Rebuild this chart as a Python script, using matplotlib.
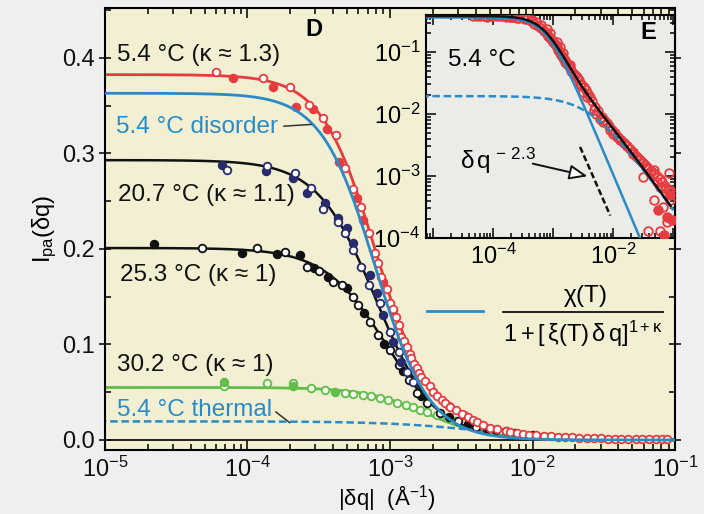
import numpy as np
import matplotlib
matplotlib.use('Agg')
import matplotlib.pyplot as plt
from matplotlib.ticker import LogLocator, FixedLocator, FuncFormatter, MultipleLocator, NullFormatter

plt.rcParams['font.family'] = ['Liberation Sans', 'DejaVu Sans']
plt.rcParams['mathtext.fontset'] = 'custom'
plt.rcParams['mathtext.rm'] = 'Liberation Sans'
plt.rcParams['mathtext.it'] = 'Liberation Sans:italic'
plt.rcParams['mathtext.bf'] = 'Liberation Sans:bold'

FS = 17.5   # curve labels
TS = 17     # tick labels

# --- fit parameters: I = chi / (1 + (xi*q)^(1+kappa))
fit_labels = ['5.4 °C (κ ≈ 1.3)', '20.7 °C (κ ≈ 1.1)', '25.3 °C (κ ≈ 1)', '30.2 °C (κ ≈ 1)']
fit_chi = [0.363, 0.293, 0.201, 0.055]
fit_xi = [1270.0, 1250.0, 1070.0, 550.0]
fit_kappa = [1.3, 1.1, 1.0, 1.0]
thermal_chi = 0.0195
thermal_xi = 234.0
thermal_exp = 1.34

# --- 5.4 C data (main panel)
red_open_q = [6.0e-5, 1.29e-4, 2.0e-4, 2.7e-4, 3.4e-4, 4.2e-4, 4.8e-4, 5.5e-4, 6.3e-4, 7.1e-4,
              7.9e-4, 8.3e-4, 8.7e-4, 9.5e-4, 1.0e-3, 1.05e-3, 1.1e-3, 1.15e-3, 1.2e-3, 1.25e-3,
              1.32e-3, 1.37e-3, 1.41e-3, 1.48e-3, 1.55e-3, 1.6e-3, 1.66e-3, 1.75e-3, 1.9e-3, 2.0e-3,
              2.14e-3, 2.3e-3, 2.45e-3, 2.65e-3, 2.9e-3, 3.2e-3, 3.5e-3, 3.8e-3, 4.1e-3, 4.5e-3,
              5.0e-3, 5.6e-3, 6.5e-3, 7.0e-3, 7.8e-3, 8.5e-3, 9.5e-3, 1.05e-2, 1.2e-2, 1.35e-2,
              1.5e-2, 1.7e-2, 1.9e-2, 2.1e-2, 2.4e-2, 2.7e-2, 3.0e-2, 3.4e-2, 3.8e-2, 4.2e-2,
              4.7e-2, 5.3e-2, 5.9e-2, 6.6e-2, 7.4e-2, 8.1e-2, 8.8e-2]
red_open_I = [0.385, 0.379, 0.370, 0.351, 0.337, 0.319, 0.285, 0.263, 0.244, 0.217,
              0.196, 0.185, 0.171, 0.158, 0.143, 0.137, 0.129, 0.120, 0.108, 0.104,
              0.097, 0.090, 0.086, 0.080, 0.075, 0.070, 0.066, 0.062, 0.056, 0.050,
              0.046, 0.042, 0.039, 0.035, 0.031, 0.027, 0.024, 0.021, 0.019, 0.016,
              0.013, 0.011, 0.009, 0.008, 0.0072, 0.0064, 0.0056, 0.005, 0.0042, 0.0038,
              0.0034, 0.003, 0.0027, 0.0024, 0.0021, 0.0019, 0.0017, 0.0015, 0.0013, 0.0012,
              0.0011, 0.0010, 0.0009, 0.0008, 0.0007, 0.0006, 0.0006]
red_fill_q = [7.9e-5, 1.5e-4, 2.2e-4, 2.9e-4, 3.6e-4, 4.4e-4, 5.9e-4, 6.5e-4, 9.0e-4, 1.05e-3,
              1.25e-3, 1.6e-3, 2.0e-3, 2.6e-3, 3.3e-3]
red_fill_I = [0.379, 0.370, 0.349, 0.346, 0.326, 0.291, 0.253, 0.230, 0.165, 0.136,
              0.103, 0.070, 0.050, 0.036, 0.026]

# --- 20.7 C data
navy_open_q = [7.2e-5, 1.38e-4, 2.14e-4, 2.8e-4, 3.4e-4, 4.3e-4, 4.8e-4, 5.5e-4, 6.3e-4, 7.1e-4,
               8.5e-4, 1.0e-3, 1.15e-3, 1.32e-3, 1.45e-3]
navy_open_I = [0.283, 0.287, 0.280, 0.264, 0.242, 0.228, 0.217, 0.199, 0.181, 0.162,
               0.143, 0.113, 0.092, 0.071, 0.061]
navy_fill_q = [6.6e-5, 1.35e-4, 2.1e-4, 2.6e-4, 3.5e-4, 4.3e-4, 5.0e-4, 5.5e-4, 7.2e-4, 8.1e-4,
               8.9e-4, 1.05e-3, 1.2e-3]
navy_fill_I = [0.288, 0.282, 0.274, 0.259, 0.248, 0.232, 0.222, 0.206, 0.173, 0.154,
               0.131, 0.103, 0.082]

# --- 25.3 C data
black_open_q = [4.8e-5, 1.17e-4, 1.82e-4, 2.6e-4, 3.2e-4, 4.0e-4, 4.6e-4, 5.5e-4, 6.0e-4, 7.2e-4,
                8.3e-4, 1.0e-3, 1.15e-3, 1.35e-3, 1.55e-3, 1.82e-3, 2.24e-3, 3.0e-3, 4.0e-3, 5.5e-3,
                7.5e-3, 1.0e-2]
black_open_I = [0.201, 0.201, 0.197, 0.181, 0.177, 0.165, 0.162, 0.150, 0.141, 0.124,
                0.110, 0.094, 0.078, 0.063, 0.049, 0.039, 0.028, 0.020, 0.014, 0.010,
                0.007, 0.005]
black_fill_q = [2.2e-5, 9.1e-5, 1.62e-4, 2.34e-4, 2.95e-4, 3.7e-4, 5.0e-4, 6.6e-4, 9.1e-4, 1.23e-3,
                1.66e-3, 2.6e-3, 3.5e-3, 4.8e-3, 6.5e-3]
black_fill_I = [0.205, 0.196, 0.195, 0.194, 0.180, 0.171, 0.159, 0.133, 0.101, 0.072,
                0.046, 0.024, 0.017, 0.012, 0.009]

# --- 30.2 C data
green_open_q = [6.9e-5, 1.38e-4, 2.1e-4, 2.8e-4, 3.5e-4, 4.8e-4, 5.5e-4, 6.5e-4, 7.4e-4, 8.5e-4,
                9.7e-4, 1.12e-3, 1.29e-3, 1.45e-3, 1.62e-3, 1.82e-3, 2.14e-3, 2.5e-3, 2.9e-3]
green_open_I = [0.057, 0.060, 0.060, 0.054, 0.052, 0.049, 0.048, 0.047, 0.046, 0.044,
                0.042, 0.039, 0.037, 0.035, 0.031, 0.029, 0.026, 0.023, 0.020]
green_fill_q = [6.9e-5, 2.1e-4, 4.1e-4]
green_fill_I = [0.061, 0.056, 0.050]

# --- 5.4 C data (inset E, log-log)
inset_q = [4.7e-5, 5.4e-5, 6.9e-5, 7.8e-5, 8.9e-5, 1.0e-4, 1.15e-4, 1.48e-4, 1.66e-4, 1.9e-4,
           2.14e-4, 2.45e-4, 3.16e-4, 3.6e-4, 4.4e-4, 5.2e-4, 6.3e-4, 7.8e-4, 8.9e-4, 1.15e-3,
           1.29e-3, 1.48e-3, 1.9e-3, 2.75e-3, 3.16e-3, 3.6e-3, 4.7e-3, 5.2e-3, 6.0e-3, 6.8e-3,
           8.9e-3, 1.0e-2, 1.15e-2, 1.29e-2, 1.48e-2, 1.66e-2, 2.14e-2, 2.45e-2, 2.75e-2, 3.16e-2,
           3.6e-2, 3.16e-2, 4.07e-2, 4.68e-2, 6.03e-2, 4.68e-2, 6.76e-2, 8.71e-2, 8.32e-2, 3.8e-2,
           6.03e-2, 7.24e-2, 5.25e-2, 7.94e-2]
inset_I = [0.380, 0.380, 0.380, 0.375, 0.380, 0.385, 0.380, 0.380, 0.370, 0.370,
           0.365, 0.360, 0.350, 0.345, 0.331, 0.302, 0.269, 0.240, 0.204, 0.145,
           0.120, 0.098, 0.062, 0.029, 0.023, 0.019, 0.0115, 0.010, 0.0083, 0.0074,
           0.0056, 0.0048, 0.0043, 0.0038, 0.0034, 0.0030, 0.0023, 0.0020, 0.0018, 0.0016,
           0.0014, 9.5e-4, 1.1e-3, 1.26e-3, 6.6e-4, 4.1e-4, 3.2e-4, 4.1e-4, 1.1e-3, 1.3e-4,
           1.3e-4, 6.3e-4, 7.9e-4, 1.8e-4]
inset_fill_q = [7.76e-2, 9.33e-2, 5.62e-2, 7.08e-2, 8.91e-2]
inset_fill_I = [2.2e-4, 1.95e-4, 2.8e-4, 1.1e-4, 5.0e-4]

RED = '#e63b3f'
BLUE = '#2a8bc6'
GREEN = '#62bd4c'
NAVY = '#272b6c'
BLACK = '#111111'


def disorder(q, chi, xi, kappa):
    return chi / (1.0 + (xi * q) ** (1.0 + kappa))


def thermal(q):
    return thermal_chi / (1.0 + (thermal_xi * q) ** thermal_exp)


fig = plt.figure(figsize=(7.04, 5.14), dpi=100, facecolor='#efefef')
ax = fig.add_axes([0.149, 0.1245, 0.81, 0.8595], facecolor='#f2efd2')

qq = np.logspace(-5.2, -0.9, 500)
ax.axhline(0.0, color=BLACK, lw=1.3, zorder=1)

# fit curves
dis54 = disorder(qq, fit_chi[0], fit_xi[0], fit_kappa[0])
ax.plot(qq, dis54 + thermal(qq), color=RED, lw=2.0, zorder=2)
ax.plot(qq, disorder(qq, fit_chi[1], fit_xi[1], fit_kappa[1]), color=BLACK, lw=1.8, zorder=2)
ax.plot(qq, disorder(qq, fit_chi[2], fit_xi[2], fit_kappa[2]), color=BLACK, lw=1.8, zorder=2)
ax.plot(qq, disorder(qq, fit_chi[3], fit_xi[3], fit_kappa[3]), color=GREEN, lw=2.0, zorder=2)
ax.plot(qq, thermal(qq), color=BLUE, lw=1.8, ls=(0, (3, 1.5)), zorder=2)

mk = dict(ls='none', marker='o', ms=5.5, mew=1.3, zorder=4)
ax.plot(green_open_q, green_open_I, mfc='#f4f8ea', mec=GREEN, **mk)
ax.plot(green_fill_q, green_fill_I, mfc=GREEN, mec=GREEN, **mk)
ax.plot(black_fill_q, black_fill_I, mfc=BLACK, mec=BLACK, **mk)
ax.plot(black_open_q, black_open_I, mfc='white', mec=BLACK, **mk)
ax.plot(navy_fill_q, navy_fill_I, mfc=NAVY, mec=NAVY, **mk)
ax.plot(navy_open_q, navy_open_I, mfc='white', mec=NAVY, **mk)
ax.plot(red_fill_q, red_fill_I, mfc=RED, mec=RED, **mk)
ax.plot(red_open_q, red_open_I, mfc='white', mec=RED, **mk)

# disorder part drawn over the points
ax.plot(qq, dis54, color=BLUE, lw=2.0, zorder=5)

ax.set_xscale('log')
ax.set_xlim(1e-5, 1e-1)
ax.set_ylim(-0.0105, 0.452)
ax.yaxis.set_major_locator(MultipleLocator(0.1))
ax.yaxis.set_minor_locator(MultipleLocator(0.05))
ax.yaxis.set_major_formatter(FuncFormatter(lambda v, p: f'{v:.1f}'))
ax.xaxis.set_major_locator(LogLocator(base=10, numticks=10))
ax.xaxis.set_minor_locator(LogLocator(base=10, subs=np.arange(2, 10), numticks=20))
ax.xaxis.set_minor_formatter(NullFormatter())
ax.tick_params(which='both', direction='in', top=True, right=True, width=1.2, labelsize=TS,
               colors=BLACK)
ax.tick_params(which='major', length=7, pad=5)
ax.tick_params(which='minor', length=4)
ax.tick_params(axis='y', which='major', direction='inout', length=9, pad=3)
for s in ax.spines.values():
    s.set_linewidth(1.5)

ax.set_ylabel(r'$\mathrm{I_{pa}(δq)}$', fontsize=17, labelpad=2)
fig.text(387 / 704, 1 - 498 / 514, r'$\mathrm{|δq|\ \ (Å^{-1})}$', fontsize=16,
         ha='center', va='center')

# curve labels
tk = dict(transform=ax.transAxes, fontsize=FS, va='center', ha='left')
ax.text(0.021, 0.894, fit_labels[0], color=BLACK, **tk)
ax.text(0.019, 0.731, '5.4 °C disorder', color=BLUE, **tk)
ax.text(0.023, 0.577, fit_labels[1], color=BLACK, **tk)
ax.text(0.026, 0.396, fit_labels[2], color=BLACK, **tk)
ax.text(0.021, 0.192, fit_labels[3], color=BLACK, **tk)
ax.text(0.021, 0.090, '5.4 °C thermal', color=BLUE, **tk)
ax.text(0.367, 0.952, 'D', transform=ax.transAxes, fontsize=17, fontweight='bold',
        ha='center', va='center')

# leader lines
ax.plot([0.314, 0.362], [0.733, 0.737], transform=ax.transAxes, color='#333333', lw=1.1, zorder=6)
ax.plot([0.300, 0.324], [0.086, 0.062], transform=ax.transAxes, color='#333333', lw=1.1, zorder=6)

# model legend
ax.plot([0.565, 0.663], [0.314, 0.314], transform=ax.transAxes, color=BLUE, lw=2.0)
ax.plot([0.698, 0.979], [0.312, 0.312], transform=ax.transAxes, color=BLACK, lw=1.3)
ax.text(0.842, 0.349, r'$\mathrm{χ(T)}$', transform=ax.transAxes, fontsize=FS,
        ha='center', va='center')
ax.text(0.838, 0.262, r'$\mathrm{1 + [\,ξ(T)\,δ\,q]^{1+κ}}$', transform=ax.transAxes,
        fontsize=17, ha='center', va='center')

# --- inset E
ax_in = fig.add_axes([0.605, 0.537, 0.354, 0.434], facecolor='#ebebe8')
qi = np.logspace(-5.2, -0.9, 500)
dis_in = disorder(qi, fit_chi[0], fit_xi[0], fit_kappa[0])
mi = dict(ls='none', marker='o', ms=6.2, mew=1.3, zorder=3)
ax_in.plot(inset_q, inset_I, mfc='none', mec=RED, **mi)
ax_in.plot(red_open_q, red_open_I, mfc='none', mec=RED, **mi)
ax_in.plot(inset_fill_q, inset_fill_I, mfc=RED, mec=RED, **mi)
ax_in.plot(qi, thermal(qi), color=BLUE, lw=1.8, ls=(0, (3, 1.5)), zorder=4)
ax_in.plot(qi, dis_in, color=BLUE, lw=1.8, zorder=4)
q_tot = qi[qi < 0.09]
ax_in.plot(q_tot, disorder(q_tot, fit_chi[0], fit_xi[0], fit_kappa[0]) + thermal(q_tot),
           color=BLACK, lw=1.8, zorder=5)
ax_in.plot([2.8e-3, 8.9e-3], [2.95e-3, 2.3e-4], color=BLACK, lw=1.8, ls=(0, (2.5, 1.2)), zorder=5)

ax_in.set_xscale('log')
ax_in.set_yscale('log')
ax_in.set_xlim(10 ** -5.12, 10 ** -0.97)
ax_in.set_ylim(1e-4, 10 ** -0.40)
ax_in.xaxis.set_major_locator(FixedLocator([1e-5, 1e-4, 1e-3, 1e-2, 1e-1]))
ax_in.xaxis.set_major_formatter(FuncFormatter(
    lambda v, p: r'$\mathdefault{10^{%d}}$' % round(np.log10(v)) if round(np.log10(v)) in (-4, -2) else ''))
ax_in.xaxis.set_minor_locator(LogLocator(base=10, subs=np.arange(2, 10), numticks=20))
ax_in.xaxis.set_minor_formatter(NullFormatter())
ax_in.yaxis.set_major_locator(FixedLocator([1e-4, 1e-3, 1e-2, 1e-1]))
ax_in.yaxis.set_minor_locator(LogLocator(base=10, subs=np.arange(2, 10), numticks=20))
ax_in.yaxis.set_minor_formatter(NullFormatter())
ax_in.tick_params(which='both', direction='in', top=True, right=True, width=1.1, labelsize=TS)
ax_in.tick_params(which='major', length=7, pad=4)
ax_in.tick_params(which='minor', length=3.5)
for s in ax_in.spines.values():
    s.set_linewidth(1.5)

ax_in.text(0.088, 0.798, '5.4 °C', transform=ax_in.transAxes, fontsize=FS, va='center')
ax_in.text(0.892, 0.919, 'E', transform=ax_in.transAxes, fontsize=17, fontweight='bold',
           ha='center', va='center')
ax_in.text(0.137, 0.345, r'$\mathrm{δ\,q^{\,-\,2.3}}$', transform=ax_in.transAxes,
           fontsize=FS, va='center')
ax_in.annotate('', xy=(0.659, 0.274), xytext=(0.418, 0.336), xycoords='axes fraction',
               arrowprops=dict(arrowstyle='-|>,head_length=1.1,head_width=0.45',
                               fc='white', ec=BLACK, lw=1.4))

fig.savefig('out.png', dpi=100, facecolor=fig.get_facecolor())
